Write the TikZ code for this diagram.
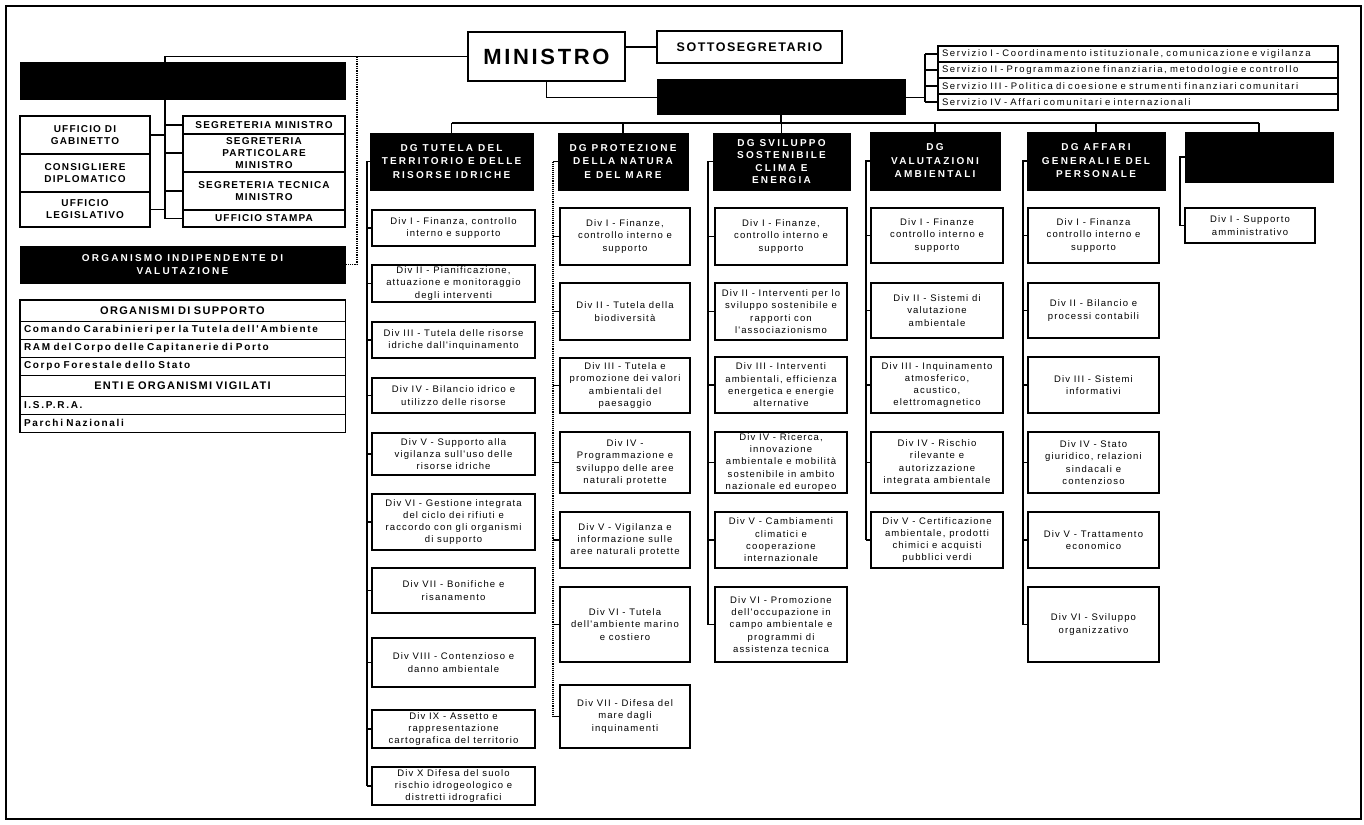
\documentclass[tikz,border=0pt]{standalone}
\usepackage{fontspec}
\newfontfamily\lsf{Liberation Sans}[LetterSpace=12]
\newfontfamily\wsf{Liberation Sans}[LetterSpace=17]
\newfontfamily\dgf{Liberation Sans}[LetterSpace=22]
\newcommand\divnode[6]{\node[divbox,minimum width=#3,minimum height=#5-#4] (#1) at (#2,{(#4+#5)/2}) {#6};}
\begin{document}
\begin{tikzpicture}[x=1pt,y=-1pt,
 conn/.style={line width=1.1pt},
 divbox/.style={draw,line width=1.7pt,fill=white,inner sep=1pt,align=center,font=\lsf\fontsize{9.5}{12.3}\selectfont},
 capbox/.style={draw,line width=1.7pt,fill=white,inner sep=1pt,align=center,font=\lsf\bfseries\fontsize{10}{12}\selectfont},
 blackbox/.style={draw=black,fill=black,line width=1pt,inner sep=1pt,align=center,text=white,font=\dgf\bfseries\fontsize{10}{13.5}\selectfont},
 servbox/.style={draw,line width=1.1pt,fill=white,inner sep=3pt,minimum width=400,minimum height=16,text width=392pt,align=left,font=\wsf\fontsize{9.5}{11}\selectfont},
 orgrow/.style={draw,line width=0.9pt,inner sep=3pt,minimum width=325,minimum height=18,text width=317pt,align=left,font=\wsf\bfseries\fontsize{10}{11}\selectfont},
 orghead/.style={orgrow,minimum height=21,align=center,font=\lsf\bfseries\fontsize{11}{12}\selectfont}]
\useasboundingbox (0,0) rectangle (1364,824);
\fill[white] (0,0) rectangle (1364,824);
\draw[line width=1.6pt] (6,6) rectangle (1361,819);

% top
\node[capbox,minimum width=157,minimum height=49,font=\lsf\bfseries\fontsize{22}{24}\selectfont] (min) at (546.5,56.5) {MINISTRO};
\node[capbox,minimum width=185,minimum height=32,font=\lsf\bfseries\fontsize{12.5}{14}\selectfont] (sotto) at (749.5,47) {SOTTOSEGRETARIO};
\node[blackbox,minimum width=248,minimum height=35] (bar) at (781,97.5) {};
\node[blackbox,minimum width=325,minimum height=37] (ucoll) at (182.5,81.5) {};

% servizi
\node[servbox] (sv1) at (1138,54) {Servizio I - Coordinamento istituzionale, comunicazione e vigilanza};
\node[servbox] (sv2) at (1138,70) {Servizio II - Programmazione finanziaria, metodologie e controllo};
\node[servbox] (sv3) at (1138,86) {Servizio III - Politica di coesione e strumenti finanziari comunitari};
\node[servbox] (sv4) at (1138,102) {Servizio IV - Affari comunitari e internazionali};

% uffici
\node[capbox,minimum width=130,minimum height=38] (gab) at (85,135) {UFFICIO DI\\GABINETTO};
\node[capbox,minimum width=130,minimum height=38] (cons) at (85,173) {CONSIGLIERE\\DIPLOMATICO};
\node[capbox,minimum width=130,minimum height=35] (leg) at (85,209.5) {UFFICIO\\LEGISLATIVO};
\node[capbox,minimum width=162,minimum height=18] (segm) at (264,125) {SEGRETERIA MINISTRO};
\node[capbox,minimum width=162,minimum height=38] (segp) at (264,153) {SEGRETERIA\\PARTICOLARE\\MINISTRO};
\node[capbox,minimum width=162,minimum height=38] (segt) at (264,191) {SEGRETERIA TECNICA\\MINISTRO};
\node[capbox,minimum width=162,minimum height=17] (segs) at (264,218.5) {UFFICIO STAMPA};

\node[blackbox,minimum width=325,minimum height=37] (oiv) at (182.5,264.5) {ORGANISMO INDIPENDENTE DI\\VALUTAZIONE};

% organismi
\node[orghead] (oh1) at (182.5,310.5) {ORGANISMI DI SUPPORTO};
\node[orgrow] (o1) at (182.5,330) {Comando Carabinieri per la Tutela dell'Ambiente};
\node[orgrow] (o2) at (182.5,348) {RAM del Corpo delle Capitanerie di Porto};
\node[orgrow] (o3) at (182.5,366) {Corpo Forestale dello Stato};
\node[orghead] (oh2) at (182.5,385.5) {ENTI E ORGANISMI VIGILATI};
\node[orgrow] (o4) at (182.5,405) {I.S.P.R.A.};
\node[orgrow] (o5) at (182.5,423) {Parchi Nazionali};
\draw[line width=1.7pt] (oh1.north west) rectangle (o5.south east);

% DG headers
\node[blackbox,minimum width=163,minimum height=57] (dg1) at (451.5,161.5) {DG TUTELA DEL\\TERRITORIO E DELLE\\RISORSE IDRICHE};
\node[blackbox,minimum width=130,minimum height=57] (dg2) at (623,161.5) {DG PROTEZIONE\\DELLA NATURA\\E DEL MARE};
\node[blackbox,minimum width=137,minimum height=57,font=\dgf\bfseries\fontsize{10}{12.5}\selectfont] (dg3) at (781.5,161.5) {DG SVILUPPO\\SOSTENIBILE\\CLIMA E\\ENERGIA};
\node[blackbox,minimum width=130,minimum height=58] (dg4) at (935,161) {DG\\VALUTAZIONI\\AMBIENTALI};
\node[blackbox,minimum width=138,minimum height=58] (dg5) at (1096,161) {DG AFFARI\\GENERALI E DEL\\PERSONALE};
\node[blackbox,minimum width=148,minimum height=50] (dg6) at (1259,157) {};

% column 1
\divnode{c1a}{453.5}{163}{210}{246}{Div I - Finanza, controllo\\interno e supporto}
\divnode{c1b}{453.5}{163}{265}{302}{Div II - Pianificazione,\\attuazione e monitoraggio\\degli interventi}
\divnode{c1c}{453.5}{163}{322}{358}{Div III - Tutela delle risorse\\idriche dall'inquinamento}
\divnode{c1d}{453.5}{163}{378}{413}{Div IV - Bilancio idrico e\\utilizzo delle risorse}
\divnode{c1e}{453.5}{163}{433}{475}{Div V - Supporto alla\\vigilanza sull'uso delle\\risorse idriche}
\divnode{c1f}{453.5}{163}{494}{550}{Div VI - Gestione integrata\\del ciclo dei rifiuti e\\raccordo con gli organismi\\di supporto}
\divnode{c1g}{453.5}{163}{568}{613}{Div VII - Bonifiche e\\risanamento}
\divnode{c1h}{453.5}{163}{638}{687}{Div VIII - Contenzioso e\\danno ambientale}
\divnode{c1i}{453.5}{163}{710}{748}{Div IX - Assetto e\\rappresentazione\\cartografica del territorio}
\divnode{c1j}{453.5}{163}{767}{805}{Div X Difesa del suolo\\rischio idrogeologico e\\distretti idrografici}

% column 2
\divnode{c2a}{625}{130}{208}{265}{Div I - Finanze,\\controllo interno e\\supporto}
\divnode{c2b}{625}{130}{283}{340}{Div II - Tutela della\\biodiversità}
\divnode{c2c}{625}{130}{358}{413}{Div III - Tutela e\\promozione dei valori\\ambientali del\\paesaggio}
\divnode{c2d}{625}{130}{432}{493}{Div IV -\\Programmazione e\\sviluppo delle aree\\naturali protette}
\divnode{c2e}{625}{130}{512}{568}{Div V - Vigilanza e\\informazione sulle\\aree naturali protette}
\divnode{c2f}{625}{130}{587}{662}{Div VI - Tutela\\dell'ambiente marino\\e costiero}
\divnode{c2g}{625}{130}{685}{748}{Div VII - Difesa del\\mare dagli\\inquinamenti}

% column 3
\divnode{c3a}{781}{132}{208}{265}{Div I - Finanze,\\controllo interno e\\supporto}
\divnode{c3b}{781}{132}{283}{340}{Div II - Interventi per lo\\sviluppo sostenibile e\\rapporti con\\l'associazionismo}
\divnode{c3c}{781}{132}{357}{413}{Div III - Interventi\\ambientali, efficienza\\energetica e energie\\alternative}
\divnode{c3d}{781}{132}{432}{493}{Div IV - Ricerca,\\innovazione\\ambientale e mobilità\\sostenibile in ambito\\nazionale ed europeo}
\divnode{c3e}{781}{132}{512}{568}{Div V - Cambiamenti\\climatici e\\cooperazione\\internazionale}
\divnode{c3f}{781}{132}{587}{662}{Div VI - Promozione\\dell'occupazione in\\campo ambientale e\\programmi di\\assistenza tecnica}

% column 4
\divnode{c4a}{937}{132}{208}{263}{Div I - Finanze\\controllo interno e\\supporto}
\divnode{c4b}{937}{132}{283}{338}{Div II - Sistemi di\\valutazione\\ambientale}
\divnode{c4c}{937}{132}{357}{413}{Div III - Inquinamento\\atmosferico,\\acustico,\\elettromagnetico}
\divnode{c4d}{937}{132}{432}{493}{Div IV - Rischio\\rilevante e\\autorizzazione\\integrata ambientale}
\divnode{c4e}{937}{132}{512}{568}{Div V - Certificazione\\ambientale, prodotti\\chimici e acquisti\\pubblici verdi}

% column 5
\divnode{c5a}{1093.5}{131}{208}{263}{Div I - Finanza\\controllo interno e\\supporto}
\divnode{c5b}{1093.5}{131}{283}{338}{Div II - Bilancio e\\processi contabili}
\divnode{c5c}{1093.5}{131}{357}{413}{Div III - Sistemi\\informativi}
\divnode{c5d}{1093.5}{131}{432}{493}{Div IV - Stato\\giuridico, relazioni\\sindacali e\\contenzioso}
\divnode{c5e}{1093.5}{131}{512}{568}{Div V - Trattamento\\economico}
\divnode{c5f}{1093.5}{131}{587}{662}{Div VI - Sviluppo\\organizzativo}

% column 6
\divnode{c6a}{1250}{130}{208}{243}{Div I - Supporto\\amministrativo}

% connectors top
\draw[conn] (sotto.west) -- (sotto.west -| min.east);
\draw[conn] (min.south) |- (bar.west);
\coordinate (brk) at (925,97.5);
\draw[conn] (bar.east) -- (brk);
\draw[conn] (sv1.west -| brk) -- (sv4.west -| brk);
\foreach \s in {sv1,sv2,sv3,sv4} \draw[conn] (\s.west -| brk) -- (\s.west);

% left connectors
\coordinate (lb) at (165,218.5);
\draw[conn] (min.west) -| (lb);
\foreach \s in {segm,segp,segt,segs} \draw[conn] (\s.west -| lb) -- (\s.west);
\draw[conn] (gab.east) -- (gab.east -| lb);
\draw[conn] (leg.east) -- (leg.east -| lb);
\coordinate (dtop) at (357,56.5);
\draw[line width=1.3pt,densely dotted] (dtop) |- (oiv.east);

% bus
\coordinate (bus) at (781,123);
\draw[conn] (bar.south) -- (bus);
\draw[conn] (bus -| dg1.north) -- (bus -| dg6.north);
\foreach \d in {dg1,dg2,dg3,dg4,dg5,dg6} \draw[conn] (bus -| \d.north) -- (\d.north);

% spines
\coordinate (s1) at (367,161.5);
\coordinate (s2) at (553,161.5);
\coordinate (s3) at (708,161.5);
\coordinate (s4) at (866,161);
\coordinate (s5) at (1023,161);
\coordinate (s6) at (1180,157);
\draw[conn] (dg1.west) -- (s1) -- (s1 |- c1j.west);
\foreach \b in {c1a,c1b,c1c,c1d,c1e,c1f,c1g,c1h,c1i,c1j} \draw[conn] (s1 |- \b.west) -- (\b.west);
\draw[conn] (dg2.west) -- (s2);
\draw[line width=1.1pt,densely dotted] (s2) -- (s2 |- c2g.west);
\foreach \b in {c2a,c2b,c2c,c2d,c2e,c2f,c2g} \draw[conn] (s2 |- \b.west) -- (\b.west);
\draw[conn] (dg3.west) -- (s3) -- (s3 |- c3f.west);
\foreach \b in {c3a,c3b,c3c,c3d,c3e,c3f} \draw[conn] (s3 |- \b.west) -- (\b.west);
\draw[conn] (dg4.west) -- (s4) -- (s4 |- c4e.west);
\foreach \b in {c4a,c4b,c4c,c4d,c4e} \draw[conn] (s4 |- \b.west) -- (\b.west);
\draw[conn] (dg5.west) -- (s5) -- (s5 |- c5f.west);
\foreach \b in {c5a,c5b,c5c,c5d,c5e,c5f} \draw[conn] (s5 |- \b.west) -- (\b.west);
\draw[conn] (dg6.west) -- (s6) -- (s6 |- c6a.west) -- (c6a.west);
\end{tikzpicture}
\end{document}
